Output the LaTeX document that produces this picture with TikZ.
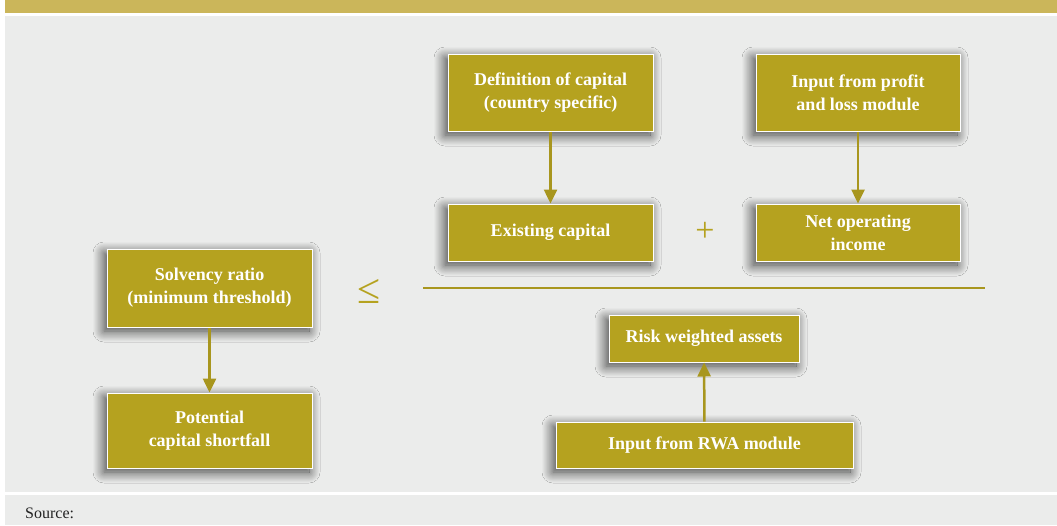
\documentclass[tikz,border=0pt]{standalone}
\usepackage{fontspec}
\setmainfont{Liberation Serif}
\usetikzlibrary{shadows.blur,arrows.meta}
\definecolor{band}{HTML}{CBB65A}
\definecolor{panel}{HTML}{EBECEB}
\definecolor{boxfill}{HTML}{B5A21F}
\definecolor{linecol}{HTML}{A8961E}
\definecolor{srccol}{HTML}{222222}
\tikzset{
  box/.style={draw=white, line width=1pt, fill=boxfill, text=white, font=\fontsize{18}{23}\selectfont\bfseries,
    align=center, inner sep=0pt,
    blur shadow={shadow xshift=-3pt, shadow yshift=-4pt, shadow blur radius=11pt, shadow blur steps=16, shadow opacity=75}},
  conn/.style={draw=linecol, line width=2.5pt, -{Triangle[width=13pt,length=14pt]}},
  sym/.style={text=boxfill, inner sep=0pt}
}
\begin{document}
\begin{tikzpicture}[x=1pt,y=-1pt]
\useasboundingbox (0,0) rectangle (1057,525);
\fill[white] (0,0) rectangle (1057,525);
\fill[band] (5,0) rectangle (1057,13);
\fill[panel] (5,16) rectangle (1057,492);
\fill[panel] (5,495) rectangle (1057,525);
\node[anchor=west, text=srccol, font=\fontsize{16}{18}\selectfont, inner sep=0pt] (src) at (25,513) {Source:};

\node[box, minimum width=205pt, minimum height=77pt] (def) at (550.5,92.5) {Definition of capital\\(country specific)};
\node[box, minimum width=204pt, minimum height=77pt] (pl) at (858,92.5) {Input from profit\\and loss module};
\node[box, minimum width=205pt, minimum height=57pt] (ex) at (550.5,232.5) {Existing capital};
\node[box, minimum width=204pt, minimum height=57pt] (noi) at (858,232.5) {Net operating\\income};
\node[box, minimum width=205pt, minimum height=78pt] (sol) at (209.5,288) {Solvency ratio\\(minimum threshold)};
\node[box, minimum width=205pt, minimum height=75pt] (pot) at (209.5,430.5) {Potential\\capital shortfall};
\node[box, minimum width=190pt, minimum height=47pt] (rwa) at (704,338.5) {Risk weighted assets};
\node[box, minimum width=297pt, minimum height=46pt] (inrwa) at (704.5,445) {Input from RWA module};

\node[sym, font=\fontsize{34}{34}\selectfont] (plus) at (705,232) {+};
\node[sym, font=\fontsize{42}{42}\selectfont] (leq) at (369,291) {≤};
\coordinate (fl) at (423,288);
\coordinate (fr) at (985,288);
\draw[draw=linecol, line width=2.5pt] (fl) -- (fr);

\draw[conn] (def) -- (ex);
\draw[conn] (pl) -- (noi);
\draw[conn] (sol) -- (pot);
\draw[conn] (inrwa) -- (rwa);
\end{tikzpicture}
\end{document}
